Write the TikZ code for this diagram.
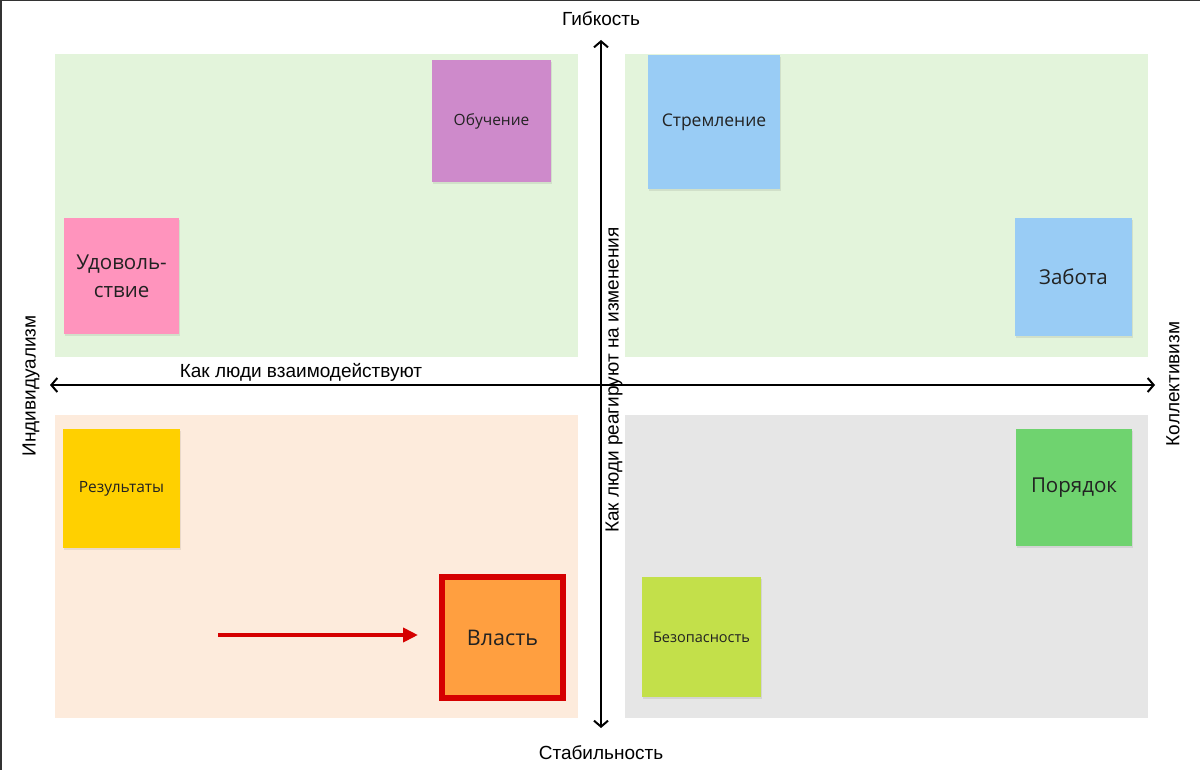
\documentclass[tikz,border=0pt]{standalone}
\usepackage{fontspec}
\setmainfont{Liberation Sans}
\newfontfamily\notefont{Open Sans}
\usetikzlibrary{arrows.meta}
\definecolor{panelgreen}{HTML}{E3F4DB}
\definecolor{panelpeach}{HTML}{FDEBDC}
\definecolor{panelgray}{HTML}{E6E6E6}
\definecolor{cpurple}{HTML}{CE8ACB}
\definecolor{cpink}{HTML}{FF94BD}
\definecolor{cblue}{HTML}{99CCF5}
\definecolor{cyellow}{HTML}{FFD000}
\definecolor{corange}{HTML}{FF9F40}
\definecolor{cred}{HTML}{D50000}
\definecolor{cgreen}{HTML}{6FD36F}
\definecolor{clime}{HTML}{C3E04A}
\definecolor{frame}{HTML}{333333}
\definecolor{ink}{HTML}{222222}
\begin{document}
\begin{tikzpicture}[x=1pt,y=-1pt,
  panel/.style={draw=none,inner sep=0pt,outer sep=0pt},
  note/.style={draw=none,inner sep=2pt,outer sep=0pt,align=center,text=ink},
  small/.style={font=\notefont\fontsize{15.5}{19}\selectfont},
  tiny/.style={font=\notefont\fontsize{14.5}{18}\selectfont},
  mid/.style={font=\notefont\fontsize{17.5}{21}\selectfont},
  big/.style={font=\notefont\fontsize{20.5}{28}\selectfont},
  axis/.style={line width=2pt,black,{Straight Barb[length=6pt,width=14pt]}-{Straight Barb[length=6pt,width=14pt]}},
  axlabel/.style={font=\fontsize{19}{22}\selectfont,text=black,inner sep=0pt},
  redarrow/.style={line width=4pt,cred,-{Triangle[length=15pt,width=14pt]}}]
\useasboundingbox (0,0) rectangle (1200,770);
\fill[white] (0,0) rectangle (1200,770);
\draw[frame,line width=3pt] (0,770) -- (0,0) -- (1200,0);
% panels
\node[panel,fill=panelgreen,minimum width=523pt,minimum height=303pt] (tl) at (316.5,205.5) {};
\node[panel,fill=panelgreen,minimum width=523pt,minimum height=303pt] (tr) at (886.5,205.5) {};
\node[panel,fill=panelpeach,minimum width=523pt,minimum height=303pt] (bl) at (316.5,566.5) {};
\node[panel,fill=panelgray,minimum width=523pt,minimum height=303pt] (br) at (886.5,566.5) {};
% shadows
\foreach \cx/\cy/\w/\h in {491.5/121/119/122, 121.5/276/115/116, 714/122/132/134, 1073.5/277/117/118, 121.5/488.5/117/119, 1074/487.5/116/117, 701.5/637/119/120}{
  \fill[black,opacity=0.08] (\cx-\w/2+1,\cy-\h/2+2) rectangle (\cx+\w/2+1,\cy+\h/2+2);
}
% notes
\node[note,small,fill=cpurple,minimum width=119pt,minimum height=122pt] (obuch) at (491.5,121) {Обучение};
\node[note,big,fill=cpink,minimum width=115pt,minimum height=116pt] (udov) at (121.5,276) {Удоволь-\\ствие};
\node[note,mid,fill=cblue,minimum width=132pt,minimum height=134pt] (strem) at (714,122) {Стремление};
\node[note,big,fill=cblue,minimum width=117pt,minimum height=118pt] (zabota) at (1073.5,277) {Забота};
\node[note,small,fill=cyellow,minimum width=117pt,minimum height=119pt] (rezult) at (121.5,488.5) {Результаты};
\node[note,big,fill=cgreen,minimum width=116pt,minimum height=117pt] (poryad) at (1074,487.5) {Порядок};
\node[note,tiny,fill=clime,minimum width=119pt,minimum height=120pt] (bezop) at (701.5,637) {Безопасность};
\node[note,big,font=\notefont\fontsize{21.5}{26}\selectfont,fill=corange,draw=cred,line width=6pt,minimum width=121pt,minimum height=121pt,outer sep=3pt] (vlast) at (502.5,637.5) {Власть};
% axes
\coordinate (hleft) at (50,385);
\coordinate (hright) at (1155,385);
\coordinate (vtop) at (601,40);
\coordinate (vbot) at (601,728);
\draw[axis] (hleft) -- (hright);
\draw[axis] (vtop) -- (vbot);
% axis labels
\node[axlabel] (flex) at (601,19) {Гибкость};
\node[axlabel] (stab) at (601,753) {Стабильность};
\node[axlabel,rotate=90] (indiv) at (31,386) {Индивидуализм};
\node[axlabel,rotate=90] (koll) at (1173,384) {Коллективизм};
\node[axlabel] (vzaim) at (301,372) {Как люди взаимодействуют};
\node[axlabel,rotate=90] (reag) at (614,380) {Как люди реагируют на изменения};
% red arrow
\coordinate (rstart) at (218,635);
\draw[redarrow] (rstart) -- (vlast.west |- rstart) [shorten >=21pt];
\end{tikzpicture}
\end{document}
